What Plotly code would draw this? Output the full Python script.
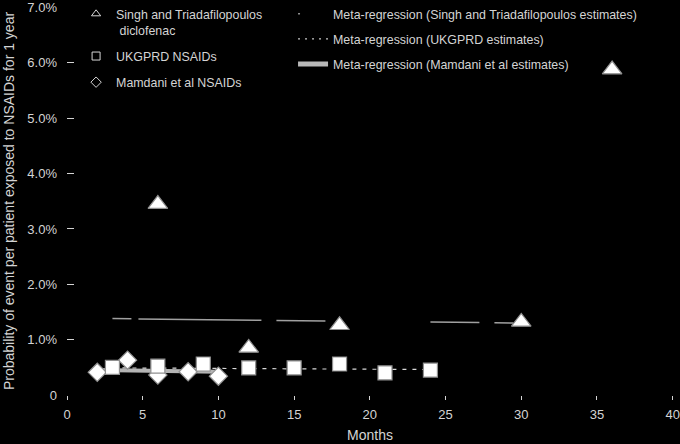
import plotly.graph_objects as go

# ---- data (values in percent, x in months) ----
singh_months = [6, 12, 18, 30, 36]
singh_prob = [3.45, 0.85, 1.26, 1.32, 5.88]

ukgprd_months = [3, 6, 9, 12, 15, 18, 21, 24]
ukgprd_prob = [0.50, 0.52, 0.56, 0.49, 0.49, 0.56, 0.40, 0.45]

mamdani_months = [2, 4, 6, 8, 10]
mamdani_prob = [0.41, 0.63, 0.36, 0.42, 0.34]

meta_singh_x = [3, 30]
meta_singh_y = [1.38, 1.30]
meta_ukgprd_x = [3, 24]
meta_ukgprd_y = [0.49, 0.46]
meta_mamdani_x = [2, 10]
meta_mamdani_y = [0.45, 0.42]

y_tickvals = [0, 1, 2, 3, 4, 5, 6, 7]
y_ticktext = ["0", "1.0%", "2.0%", "3.0%", "4.0%", "5.0%", "6.0%", "7.0%"]
x_tickvals = [0, 5, 10, 15, 20, 25, 30, 35, 40]

name_singh = "Singh and Triadafilopoulos<br> diclofenac"
name_ukgprd = "UKGPRD NSAIDs"
name_mamdani = "Mamdani et al NSAIDs"
name_meta_singh = "Meta-regression (Singh and Triadafilopoulos estimates)"
name_meta_ukgprd = "Meta-regression (UKGPRD estimates)"
name_meta_mamdani = "Meta-regression (Mamdani et al estimates)"

TXT = "#d4d4d4"
FONT = "Liberation Sans, Arial, sans-serif"

fig = go.Figure()

# regression lines
fig.add_trace(go.Scatter(x=meta_mamdani_x, y=meta_mamdani_y, mode="lines",
                         line=dict(color="#b4b4b4", width=4), showlegend=False))
fig.add_trace(go.Scatter(x=meta_ukgprd_x, y=meta_ukgprd_y, mode="lines",
                         line=dict(color="#d8d8d8", width=1.2, dash="4px,6px"), showlegend=False))
fig.add_trace(go.Scatter(x=meta_singh_x, y=meta_singh_y, mode="lines",
                         line=dict(color="#a0a0a0", width=1.5,
                                   dash="19px,7px,123px,15px,49px,105px,49px,15px,19px,100px"),
                         showlegend=False))

mk_line = dict(color="#909090", width=1.2)
fig.add_trace(go.Scatter(x=mamdani_months, y=mamdani_prob, mode="markers",
                         marker=dict(symbol="diamond", size=14, color="white", line=mk_line),
                         showlegend=False))
fig.add_trace(go.Scatter(x=ukgprd_months, y=ukgprd_prob, mode="markers",
                         marker=dict(symbol="square", size=14, color="white", line=mk_line),
                         showlegend=False))
fig.add_trace(go.Scatter(x=singh_months, y=singh_prob, mode="markers",
                         marker=dict(symbol="triangle-up", size=17, color="white", line=mk_line),
                         showlegend=False))

# legend entries (markers)
for nm, sym, grp in [(name_singh, "triangle-up-open", "a"),
                     (name_ukgprd, "square-open", "b"),
                     (name_mamdani, "diamond-open", "c")]:
    fig.add_trace(go.Scatter(x=[None], y=[None], mode="markers", name=nm,
                             legend="legend", legendgroup=grp,
                             marker=dict(symbol=sym, size=8, color=TXT, line=dict(width=1))))

# legend entries (lines)
for nm, ln, grp in [(name_meta_singh, dict(color="#909090", width=1.5, dash="2px,38px"), "d"),
                    (name_meta_ukgprd, dict(color="#c8c8c8", width=1.2, dash="2px,5px"), "e"),
                    (name_meta_mamdani, dict(color="#b8b8b8", width=5), "f")]:
    fig.add_trace(go.Scatter(x=[None], y=[None], mode="lines", name=nm,
                             legend="legend2", legendgroup=grp, line=ln))

fig.update_layout(
    width=680, height=444,
    paper_bgcolor="black", plot_bgcolor="black",
    font=dict(family=FONT, color=TXT, size=12),
    margin=dict(l=67, r=7, t=7, b=49, autoexpand=False),
    xaxis=dict(range=[0, 40.02], tickvals=x_tickvals, showgrid=False, zeroline=False,
               showline=False, ticks="outside", ticklen=4, tickcolor=TXT,
               tickfont=dict(size=13), ticklabelstandoff=3,
               title=dict(text="Months", font=dict(size=14), standoff=9)),
    yaxis=dict(range=[0, 7.01], tickvals=y_tickvals, ticktext=y_ticktext, showgrid=False,
               zeroline=False, showline=False, ticks="inside", ticklen=7, tickcolor=TXT,
               tickfont=dict(size=13), ticklabelstandoff=9,
               title=dict(text="Probability of event per patient exposed to NSAIDs for 1 year",
                          font=dict(size=14), standoff=9)),
    legend=dict(x=0.015, y=1.02, xanchor="left", yanchor="top", bgcolor="rgba(0,0,0,0)",
                font=dict(size=12.4, color=TXT), valign="top", tracegroupgap=7,
                traceorder="grouped"),
    legend2=dict(x=0.373, y=1.02, xanchor="left", yanchor="top", bgcolor="rgba(0,0,0,0)",
                 font=dict(size=12.4, color=TXT), tracegroupgap=6, traceorder="grouped"),
)

fig.write_html("out.html", config={"displayModeBar": False},
               post_script="document.body.style.margin='0';document.body.style.overflow='hidden';")
